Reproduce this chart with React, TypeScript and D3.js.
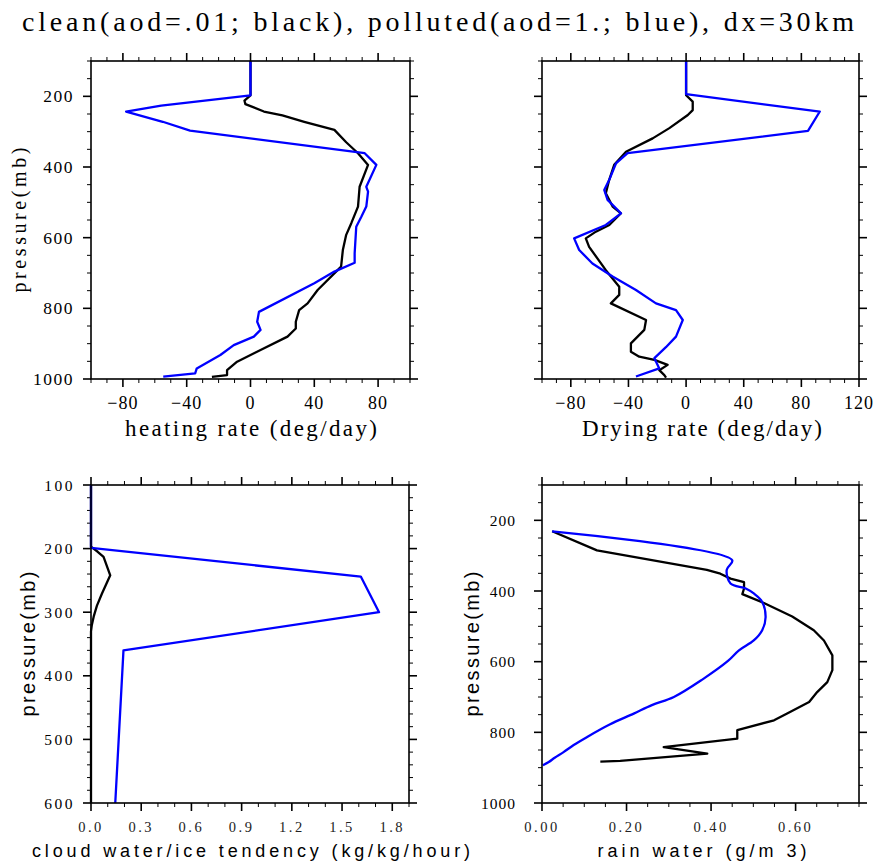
import React from 'react';
import * as d3 from 'd3';

const TITLE = 'clean(aod=.01; black), polluted(aod=1.; blue), dx=30km';

// Panel 1: heating rate
const heatCleanP = [100, 197, 212, 222, 243, 254, 272, 295, 330, 361, 394, 456, 512, 559, 592, 635, 682, 748, 786, 805, 838, 857, 880, 918, 951, 975, 989, 994];
const heatCleanV = [0, 0, -3.8, -3.2, 8.4, 20, 33.7, 52.6, 60, 67.4, 73.7, 68.4, 67.4, 63.2, 60, 57.9, 56.8, 42.1, 35.8, 30.5, 28.4, 28.4, 23.2, 6.3, -8.4, -14.7, -14.7, -24.2];
const heatPollP = [100, 197, 226, 243, 272, 297, 361, 394, 456, 470, 512, 541, 569, 644, 671, 696, 729, 810, 838, 861, 880, 904, 932, 970, 984, 993];
const heatPollV = [0, 0, -56, -78, -55, -37.9, 71.6, 78.9, 72.6, 73.7, 72.6, 69.5, 66.3, 65.3, 65.3, 52.6, 40, 5.3, 4.2, 6.3, 2.1, -10.5, -18.9, -33.7, -34.7, -54.7];
const heatXTicks = [-80, -40, 0, 40, 80];

// Panel 2: drying rate
const dryCleanP = [100, 197, 215, 239, 253, 290, 319, 357, 394, 437, 474, 512, 531, 564, 583, 602, 626, 692, 739, 762, 786, 833, 861, 899, 923, 937, 946, 960, 975, 989, 996];
const dryCleanV = [0, 0, 4.6, 4.6, 1.2, -11.6, -23.2, -41.7, -49.9, -53.4, -55.7, -51, -45.2, -53.3, -62.6, -69.6, -67.3, -55.7, -46.4, -46.4, -52.2, -27.8, -29, -38.3, -38.3, -32.5, -22, -12.8, -18.6, -15.1, -13.9];
const dryPollP = [100, 194, 243, 298, 361, 390, 437, 465, 493, 531, 564, 602, 635, 673, 710, 748, 786, 805, 833, 880, 910, 941, 970, 993];
const dryPollV = [0, 0, 92.8, 84.6, -40.6, -48.7, -53.4, -56.8, -54.5, -45.2, -55.7, -77.7, -74.2, -65, -51, -34.8, -20.9, -7, -2.3, -7, -14, -22, -18.6, -34.8];
const dryXTicks = [-80, -40, 0, 40, 80, 120];

// Panel 3: cloud water/ice tendency
const cldCleanP = [100, 197, 205, 213, 242, 271, 290, 307, 320, 330, 600];
const cldCleanV = [0, 0, 0.04, 0.075, 0.115, 0.065, 0.035, 0.016, 0.005, 0, 0];
const cldPollP = [100, 199, 244, 300, 360, 600];
const cldPollV = [0, 0, 1.612, 1.721, 0.194, 0.145];
const cldXTicks = [0, 0.3, 0.6, 0.9, 1.2, 1.5, 1.8];
const cldYTicks = [100, 200, 300, 400, 500, 600];

// Panel 4: rain water
const rainCleanP = [231, 285, 340, 351, 365, 375, 393, 409, 434, 472, 511, 540, 582, 624, 658, 686, 714, 747, 766, 794, 818, 842, 860, 881, 883];
const rainCleanV = [0.024, 0.13, 0.39, 0.422, 0.446, 0.478, 0.478, 0.474, 0.525, 0.592, 0.643, 0.667, 0.687, 0.687, 0.675, 0.651, 0.632, 0.58, 0.549, 0.462, 0.462, 0.288, 0.391, 0.185, 0.138];
const rainPollP = [231, 313, 340, 379, 393, 407, 431, 474, 511, 540, 568, 598, 650, 700, 723, 747, 778, 813, 836, 856, 872, 884, 893];
const rainPollV = [0.024, 0.45, 0.437, 0.446, 0.482, 0.501, 0.521, 0.529, 0.521, 0.501, 0.466, 0.44, 0.38, 0.312, 0.26, 0.217, 0.16, 0.107, 0.075, 0.051, 0.03, 0.016, 0.002];
const rainXTicks = [0, 0.2, 0.4, 0.6];

const pressTicks = [200, 400, 600, 800, 1000];

const SERIF = '"Liberation Serif", "Times New Roman", serif';
const SANS = '"Liberation Sans", Arial, sans-serif';
const BLUE = '#0000ff';

const fmtSigned = (v: number) => (v < 0 ? '\u2212' + Math.abs(v) : String(v));

type Cfg = {
  left: number; right: number; top: number; bottom: number;
  xDomain: [number, number]; yMax: number;
  xTicks: number[]; xMinorStep: number; xFmt: (v: number) => string;
  yTicks: number[]; yMinorStep: number; showY: boolean;
  clean: [number[], number[]]; poll: [number[], number[]]; smoothPoll?: boolean;
  xTitle: string; xTitleFont: string; xTitleSize: number; xTitleLen: number; xTitleY: number; xTitleX: number;
  xLabFont: string; xLabSize: number; xLabSpacing: number; xLabY: number; xLabFill: string;
  yLabSize: number; yLabSpacing: number; yLabX: number;
  yTitleFont: string; yTitleX: number;
};

function Panel({ c }: { c: Cfg }) {
  const x = d3.scaleLinear().domain(c.xDomain).range([c.left, c.right]);
  const y = d3.scaleLinear().domain([100, c.yMax]).range([c.top, c.bottom]);
  const line = d3.line<[number, number]>().x(d => x(d[0])).y(d => y(d[1]));
  const smoothLine = d3.line<[number, number]>().x(d => x(d[0])).y(d => y(d[1])).curve(d3.curveCatmullRom.alpha(0.5));
  const zip = (s: [number[], number[]]) => s[0].map((p, i) => [s[1][i], p] as [number, number]);
  const eps = 1e-6;
  const xMinor = d3.range(c.xDomain[0], c.xDomain[1] + eps, c.xMinorStep)
    .map(v => Math.round(v * 1000) / 1000)
    .filter(v => !c.xTicks.some(t => Math.abs(t - v) < eps));
  const yMinor = d3.range(100, c.yMax + eps, c.yMinorStep)
    .filter(v => !c.yTicks.some(t => Math.abs(t - v) < eps));
  const MAJ = 8, MIN = 4;
  const tickStyle = { stroke: '#000', strokeWidth: 1.6 };
  const minStyle = { stroke: '#000', strokeWidth: 1 };
  const cy = (c.top + c.bottom) / 2;
  return (
    <g>
      {c.xTicks.map(v => (
        <g key={'xm' + v}>
          <line x1={x(v)} x2={x(v)} y1={c.bottom} y2={c.bottom + MAJ} style={tickStyle} />
          <line x1={x(v)} x2={x(v)} y1={c.top} y2={c.top - MAJ} style={tickStyle} />
          <text x={x(v)} y={c.xLabY} textAnchor="middle" dominantBaseline="central"
            fontFamily={c.xLabFont} fontSize={c.xLabSize} letterSpacing={c.xLabSpacing} fill={c.xLabFill}>{c.xFmt(v)}</text>
        </g>
      ))}
      {xMinor.map(v => (
        <g key={'xn' + v}>
          <line x1={x(v)} x2={x(v)} y1={c.bottom} y2={c.bottom + MIN} style={minStyle} />
          <line x1={x(v)} x2={x(v)} y1={c.top} y2={c.top - MIN} style={minStyle} />
        </g>
      ))}
      {c.yTicks.map(v => (
        <g key={'ym' + v}>
          <line x1={c.left} x2={c.left - MAJ} y1={y(v)} y2={y(v)} style={tickStyle} />
          <line x1={c.right} x2={c.right + MAJ} y1={y(v)} y2={y(v)} style={tickStyle} />
          {c.showY && (
            <text x={c.yLabX} y={y(v)} textAnchor="end" dominantBaseline="central"
              fontFamily={SERIF} fontSize={c.yLabSize} letterSpacing={c.yLabSpacing} fill="#000">{String(v)}</text>
          )}
        </g>
      ))}
      {yMinor.map(v => (
        <g key={'yn' + v}>
          <line x1={c.left} x2={c.left - MIN} y1={y(v)} y2={y(v)} style={minStyle} />
          <line x1={c.right} x2={c.right + MIN} y1={y(v)} y2={y(v)} style={minStyle} />
        </g>
      ))}
      <path d={line(zip(c.clean)) || ''} fill="none" stroke="#000" strokeWidth={2.3} strokeLinejoin="round" />
      <path d={(c.smoothPoll ? smoothLine : line)(zip(c.poll)) || ''} fill="none" stroke={BLUE} strokeWidth={2.3} strokeLinejoin="round" />
      <rect x={c.left} y={c.top} width={c.right - c.left} height={c.bottom - c.top} fill="none" stroke="#000" strokeWidth={1.6} />
      <text x={c.xTitleX} y={c.xTitleY} textAnchor="middle" fontFamily={c.xTitleFont} fontSize={c.xTitleSize}
        textLength={c.xTitleLen} lengthAdjust="spacing" fill="#000">{c.xTitle}</text>
      {c.showY && (
        <text transform={`translate(${c.yTitleX},${cy}) rotate(-90)`} textAnchor="middle" dominantBaseline="central"
          fontFamily={c.yTitleFont} fontSize={20} textLength={145} lengthAdjust="spacing" fill="#000">pressure(mb)</text>
      )}
    </g>
  );
}

const panels: Cfg[] = [
  {
    left: 91, right: 410, top: 61, bottom: 379, xDomain: [-100, 100], yMax: 1000,
    xTicks: heatXTicks, xMinorStep: 10, xFmt: fmtSigned, yTicks: pressTicks, yMinorStep: 50, showY: true,
    clean: [heatCleanP, heatCleanV], poll: [heatPollP, heatPollV],
    xTitle: 'heating rate (deg/day)', xTitleFont: SERIF, xTitleSize: 23, xTitleLen: 252, xTitleY: 436, xTitleX: 251,
    xLabFont: SERIF, xLabSize: 18, xLabSpacing: 1, xLabY: 403, xLabFill: '#000',
    yLabSize: 17.5, yLabSpacing: 1.5, yLabX: 74, yTitleFont: SERIF, yTitleX: 19,
  },
  {
    left: 542, right: 859, top: 61, bottom: 379, xDomain: [-100, 120], yMax: 1000,
    xTicks: dryXTicks, xMinorStep: 10, xFmt: fmtSigned, yTicks: pressTicks, yMinorStep: 50, showY: false,
    clean: [dryCleanP, dryCleanV], poll: [dryPollP, dryPollV],
    xTitle: 'Drying rate (deg/day)', xTitleFont: SERIF, xTitleSize: 23, xTitleLen: 240, xTitleY: 436, xTitleX: 702,
    xLabFont: SERIF, xLabSize: 18, xLabSpacing: 1, xLabY: 403, xLabFill: '#000',
    yLabSize: 17.5, yLabSpacing: 1.5, yLabX: 525, yTitleFont: SERIF, yTitleX: 470,
  },
  {
    left: 91, right: 409, top: 485, bottom: 803, xDomain: [0, 1.9], yMax: 600,
    xTicks: cldXTicks, xMinorStep: 0.1, xFmt: (v: number) => v.toFixed(1), yTicks: cldYTicks, yMinorStep: 20, showY: true,
    clean: [cldCleanP, cldCleanV], poll: [cldPollP, cldPollV],
    xTitle: 'cloud water/ice tendency (kg/kg/hour)', xTitleFont: SANS, xTitleSize: 18, xTitleLen: 438, xTitleY: 857, xTitleX: 251,
    xLabFont: SERIF, xLabSize: 14.5, xLabSpacing: 2.5, xLabY: 827, xLabFill: '#222',
    yLabSize: 15.5, yLabSpacing: 2.5, yLabX: 75, yTitleFont: SANS, yTitleX: 27.5,
  },
  {
    left: 542, right: 859, top: 485, bottom: 803, xDomain: [0, 0.75], yMax: 1000,
    xTicks: rainXTicks, xMinorStep: 0.05, xFmt: (v: number) => v.toFixed(2), yTicks: pressTicks, yMinorStep: 50, showY: true,
    clean: [rainCleanP, rainCleanV], poll: [rainPollP, rainPollV], smoothPoll: true,
    xTitle: 'rain water (g/m 3)', xTitleFont: SANS, xTitleSize: 18, xTitleLen: 209, xTitleY: 857, xTitleX: 702,
    xLabFont: SERIF, xLabSize: 14.5, xLabSpacing: 2.5, xLabY: 827, xLabFill: '#222',
    yLabSize: 15.5, yLabSpacing: 1, yLabX: 516, yTitleFont: SANS, yTitleX: 472,
  },
];

export default function App() {
  return (
    <svg width={875} height={863} viewBox="0 0 875 863"
      style={{ position: 'absolute', left: 0, top: 0, background: '#fff' }}>
      <rect x={0} y={0} width={875} height={863} fill="#fff" />
      <text x={438} y={31} textAnchor="middle" fontFamily={SERIF} fontSize={28}
        textLength={832} lengthAdjust="spacing" fill="#000">{TITLE}</text>
      {panels.map((c, i) => <Panel key={i} c={c} />)}
    </svg>
  );
}
